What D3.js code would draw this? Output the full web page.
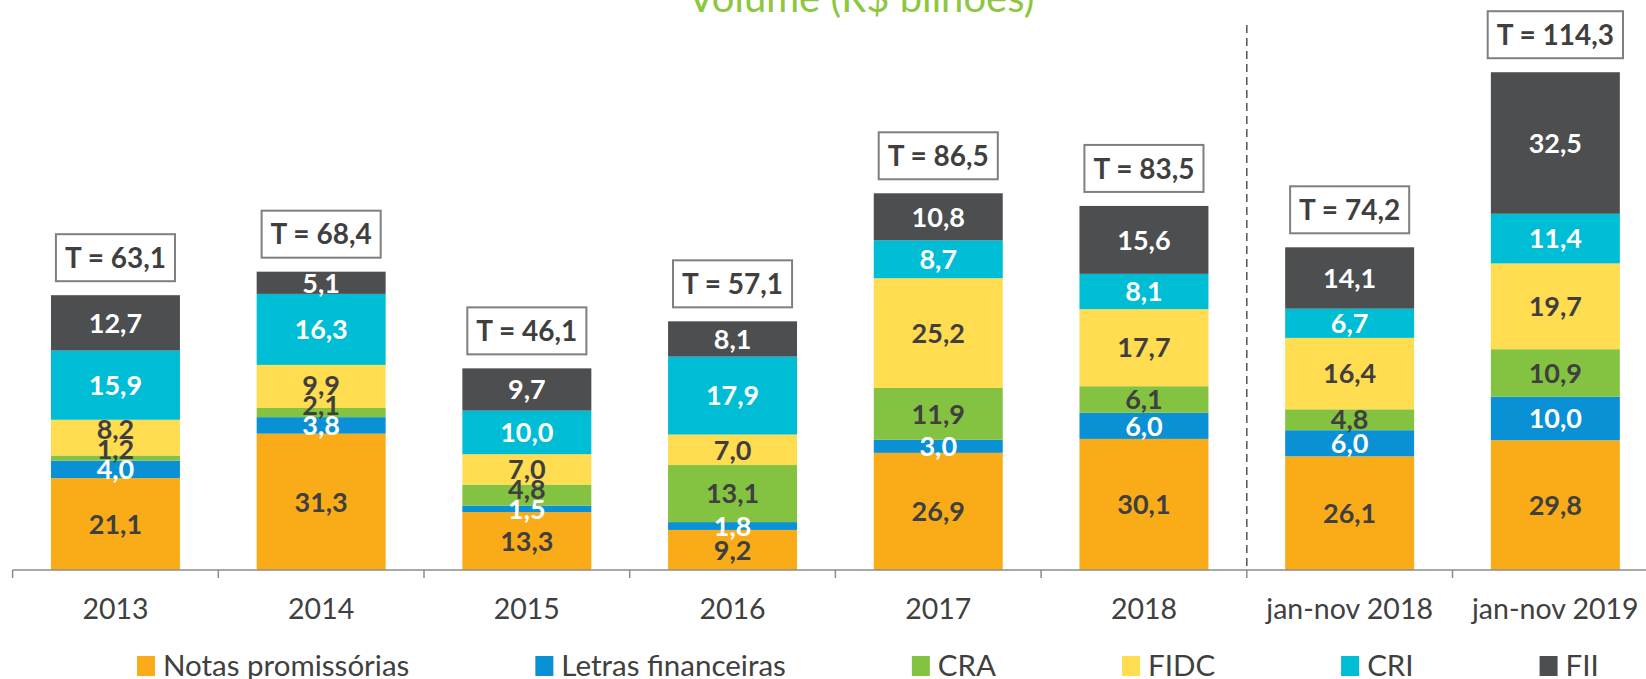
<!DOCTYPE html>
<html>
<head>
<meta charset="utf-8">
<script src="https://cdn.jsdelivr.net/npm/d3@7"></script>
<style>
  body { margin: 0; background: #fff; }
  svg { display: block; font-family: Lato, "Open Sans", sans-serif; }
</style>
</head>
<body>
<div id="chart"></div>
<script>
"use strict"

const categories = ["2013", "2014", "2015", "2016", "2017", "2018", "jan-nov 2018", "jan-nov 2019"]
const seriesNames = ["Notas promissórias", "Letras financeiras", "CRA", "FIDC", "CRI", "FII"]

const notasPromissorias = [21.1, 31.3, 13.3, 9.2, 26.9, 30.1, 26.1, 29.8]
const letrasFinanceiras = [4.0, 3.8, 1.5, 1.8, 3.0, 6.0, 6.0, 10.0]
const cra = [1.2, 2.1, 4.8, 13.1, 11.9, 6.1, 4.8, 10.9]
const fidc = [8.2, 9.9, 7.0, 7.0, 25.2, 17.7, 16.4, 19.7]
const cri = [15.9, 16.3, 10.0, 17.9, 8.7, 8.1, 6.7, 11.4]
const fii = [12.7, 5.1, 9.7, 8.1, 10.8, 15.6, 14.1, 32.5]
const totals = ["63,1", "68,4", "46,1", "57,1", "86,5", "83,5", "74,2", "114,3"]

const series = [notasPromissorias, letrasFinanceiras, cra, fidc, cri, fii]
const colors = ["#FAAC18", "#0A91D5", "#84C341", "#FFDC50", "#00BDD6", "#4D4E50"]
const labelColors = ["#3F3F3F", "#ffffff", "#3F3F3F", "#3F3F3F", "#ffffff", "#ffffff"]

const width = 1646, height = 679
const fmt = v => v.toFixed(1).replace(".", ",")

const svg = d3.select("#chart").append("svg")
  .attr("width", width)
  .attr("height", height)

// title (cut at the top like the original)
svg.append("text")
  .attr("x", 861)
  .attr("y", 12)
  .attr("text-anchor", "middle")
  .attr("fill", "#8DC63F")
  .style("font-size", "40px")
  .text("Volume (R$ bilhões)")

const x = d3.scaleBand()
  .domain(categories)
  .range([12.6, 12.6 + 8 * 205.7])
  .paddingInner(0.373)
  .paddingOuter(0.373 / 2)

const y = d3.scaleLinear()
  .domain([0, 120])
  .range([570, 570 - 120 * 4.355])

const rows = categories.map((c, i) => {
  const o = {cat: c}
  seriesNames.forEach((s, j) => o[s] = series[j][i])
  return o
})

const stacked = d3.stack().keys(seriesNames)(rows)

// bars
const layers = svg.append("g").selectAll("g")
  .data(stacked)
  .join("g")
  .attr("fill", (d, i) => colors[i])

layers.selectAll("rect")
  .data(d => d)
  .join("rect")
  .attr("x", d => x(d.data.cat))
  .attr("width", x.bandwidth())
  .attr("y", d => y(d[1]))
  .attr("height", d => y(d[0]) - y(d[1]))

// segment labels, nudged up when they would collide
const labels = svg.append("g")
  .attr("text-anchor", "middle")
  .style("font-size", "27px")
  .style("font-weight", "bold")

categories.forEach((c, i) => {
  let prev = Infinity
  stacked.forEach((layer, j) => {
    const d = layer[i]
    let cy = (y(d[0]) + y(d[1])) / 2
    if (prev - cy < 20) cy = prev - 20
    prev = cy
    labels.append("text")
      .attr("x", x(c) + x.bandwidth() / 2)
      .attr("y", cy)
      .attr("dy", "0.36em")
      .attr("fill", labelColors[j])
      .text(fmt(series[j][i]))
  })
})

// total boxes
const topLayer = stacked[stacked.length - 1]
categories.forEach((c, i) => {
  const g = svg.append("g")
  const cx = x(c) + x.bandwidth() / 2
  const bottom = y(topLayer[i][1]) - 14
  const t = g.append("text")
    .attr("x", cx)
    .attr("y", bottom - 23.5)
    .attr("dy", "0.36em")
    .attr("text-anchor", "middle")
    .attr("fill", "#3F3F3F")
    .style("font-size", "28px")
    .style("font-weight", "bold")
    .text("T = " + totals[i])
  const w = t.node().getComputedTextLength() + 18
  g.insert("rect", "text")
    .attr("x", cx - w / 2)
    .attr("y", bottom - 47)
    .attr("width", w)
    .attr("height", 47)
    .attr("fill", "#fff")
    .attr("stroke", "#7F7F7F")
    .attr("stroke-width", 2)
})

// axis
const axis = svg.append("g").attr("stroke", "#8C8C8C").attr("stroke-width", 1.5)
axis.append("line")
  .attr("x1", x.range()[0]).attr("x2", width)
  .attr("y1", y(0)).attr("y2", y(0))
axis.selectAll(".tick")
  .data(d3.range(categories.length + 1))
  .join("line")
  .attr("x1", i => x.range()[0] + i * x.step())
  .attr("x2", i => x.range()[0] + i * x.step())
  .attr("y1", y(0))
  .attr("y2", y(0) + 8)

// separator between full years and jan-nov
const sepX = x.range()[0] + 6 * x.step()
svg.append("line")
  .attr("x1", sepX).attr("x2", sepX)
  .attr("y1", 25).attr("y2", y(0))
  .attr("stroke", "#555")
  .attr("stroke-width", 1.5)
  .attr("stroke-dasharray", "8 5")

svg.append("g")
  .attr("text-anchor", "middle")
  .attr("fill", "#404040")
  .style("font-size", "28.5px")
  .selectAll("text")
  .data(categories)
  .join("text")
  .attr("x", c => x(c) + x.bandwidth() / 2)
  .attr("y", 609)
  .attr("dy", "0.36em")
  .text(c => c)

// legend
const legend = svg.append("g")
let lx = 137
seriesNames.forEach((s, i) => {
  legend.append("rect")
    .attr("x", lx).attr("y", 656)
    .attr("width", 18).attr("height", 20)
    .attr("fill", colors[i])
  const t = legend.append("text")
    .attr("x", lx + 26)
    .attr("y", 665)
    .attr("dy", "0.36em")
    .attr("fill", "#404040")
    .style("font-size", "29.5px")
    .text(s)
  lx += 26 + t.node().getComputedTextLength() + 126
})
</script>
</body>
</html>
